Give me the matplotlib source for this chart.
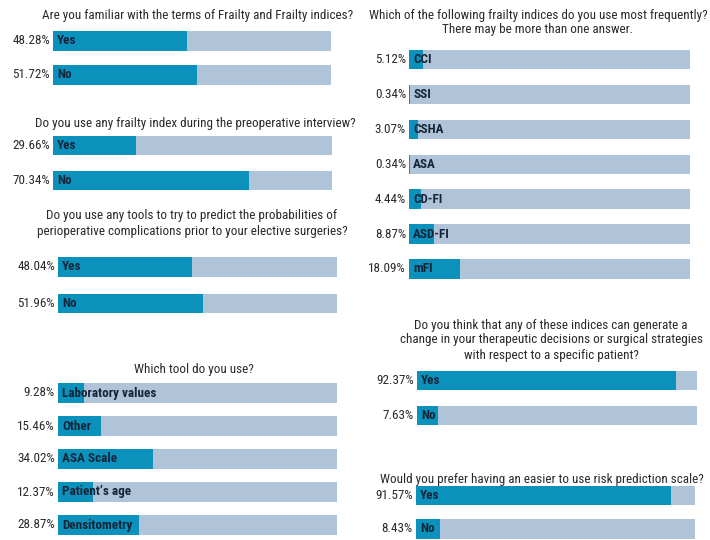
import os
import matplotlib
matplotlib.use("Agg")
import matplotlib.pyplot as plt
import matplotlib.font_manager as fm

W, H = 710, 540

# ---------------- data ----------------
q1_title = "Are you familiar with the terms of Frailty and Frailty indices?"
q1_labels = ["Yes", "No"]
q1_values = [48.28, 51.72]

q2_title = "Do you use any frailty index during the preoperative interview?"
q2_labels = ["Yes", "No"]
q2_values = [29.66, 70.34]

q3_title = ("Do you use any tools to try to predict the probabilities of\n"
            "perioperative complications prior to your elective surgeries?")
q3_labels = ["Yes", "No"]
q3_values = [48.04, 51.96]

q4_title = "Which tool do you use?"
q4_labels = ["Laboratory values", "Other", "ASA Scale", "Patient\u2019s age", "Densitometry"]
q4_values = [9.28, 15.46, 34.02, 12.37, 28.87]

q5_title = ("Which of the following frailty indices do you use most frequently?\n"
            "There may be more than one answer.")
q5_labels = ["CCI", "SSI", "CSHA", "ASA", "CD-FI", "ASD-FI", "mFI"]
q5_values = [5.12, 0.34, 3.07, 0.34, 4.44, 8.87, 18.09]

q6_title = ("Do you think that any of these indices can generate a\n"
            "change in your therapeutic decisions or surgical strategies\n"
            "with respect to a specific patient?")
q6_labels = ["Yes", "No"]
q6_values = [92.37, 7.63]

q7_title = "Would you prefer having an easier to use risk prediction scale?"
q7_labels = ["Yes", "No"]
q7_values = [91.57, 8.43]

DARK = "#0b92bc"
LIGHT = "#afc4d8"
TXT = "#2a2a2a"
LBL = "#14253a"


# ---------- font: prefer a narrow sans (Arial Narrow look) ----------
def _weight(w):
    if isinstance(w, str):
        return fm.weight_dict.get(w, 400)
    return w


def find_font(patterns, bold):
    for pat in patterns:
        for f in fm.fontManager.ttflist:
            fn = os.path.basename(f.fname).lower().replace(" ", "").replace("_", "").replace("-", "")
            if pat in fn and f.style == "normal" and "italic" not in fn and "oblique" not in fn:
                isb = _weight(f.weight) >= 600
                if isb == bold:
                    return f.fname
    return None


narrow_pats = ["liberationsansnarrow", "arialnarrow", "arialn", "robotocondensed",
               "opensanscondensed", "dejavusanscondensed", "notosanscondensed"]
reg_file = find_font(narrow_pats, False)
bold_file = find_font(narrow_pats, True)
if reg_file:
    FP_REG = fm.FontProperties(fname=reg_file)
else:
    FP_REG = fm.FontProperties(family=["Liberation Sans", "DejaVu Sans"])
if bold_file:
    FP_BOLD = fm.FontProperties(fname=bold_file)
else:
    FP_BOLD = fm.FontProperties(family=["Liberation Sans", "DejaVu Sans"], weight="bold")

fig = plt.figure(figsize=(W / 100, H / 100), dpi=100)
fig.patch.set_facecolor("white")

texts = []


def panel(labels, values, title, x0, x1, c_first, c_last, title_x, title_y, lbl_pad=4):
    n = len(values)
    sp = (c_last - c_first) / (n - 1)
    top = c_first - sp / 2
    bot = c_last + sp / 2
    ax = fig.add_axes([x0 / W, 1 - bot / H, (x1 - x0) / W, (bot - top) / H])
    ax.set_xlim(0, 100)
    ax.set_ylim(n - 0.5, -0.5)
    ax.axis("off")
    h = 19.5 / sp
    ypos = list(range(n))
    ax.barh(ypos, [100] * n, height=h, color=LIGHT, left=0)
    ax.barh(ypos, values, height=h, color=DARK, left=0)
    pad = lbl_pad / (x1 - x0) * 100
    for y, lab, v in zip(ypos, labels, values):
        t1 = ax.text(pad, y, lab, ha="left", va="center", fontproperties=FP_BOLD.copy(),
                     color=LBL)
        t2 = ax.text(-3 / (x1 - x0) * 100, y, f"{v:.2f}%", ha="right", va="center",
                     fontproperties=FP_REG.copy(), color=TXT, clip_on=False)
        texts.extend([t1, t2])
    tt = fig.text(title_x / W, 1 - title_y / H, title, ha="center", va="center",
                  fontproperties=FP_REG.copy(), color=TXT, linespacing=1.2)
    texts.append(tt)
    return tt


t1 = panel(q1_labels, q1_values, q1_title, 53, 331, 41, 75, 198, 15)
panel(q2_labels, q2_values, q2_title, 53, 332, 145.5, 180.5, 195, 123)
panel(q3_labels, q3_values, q3_title, 58, 337, 267, 303.5, 192, 223.5)
panel(q4_labels, q4_values, q4_title, 58, 337, 393, 525, 194, 370)
panel(q5_labels, q5_values, q5_title, 409, 690, 59.5, 269, 538, 22.5)
panel(q6_labels, q6_values, q6_title, 417, 697, 380.5, 415.5, 551, 340)
panel(q7_labels, q7_values, q7_title, 416, 695, 495.5, 529, 542, 480)

# scale font size so that the first title is ~307 px wide, as in the reference
base = 10.0
for t in texts:
    t.set_fontsize(base)
fig.canvas.draw()
w = t1.get_window_extent().width
fs = base * 307.0 / w
for t in texts:
    t.set_fontsize(fs)

fig.savefig("out.png", dpi=100, facecolor="white")
